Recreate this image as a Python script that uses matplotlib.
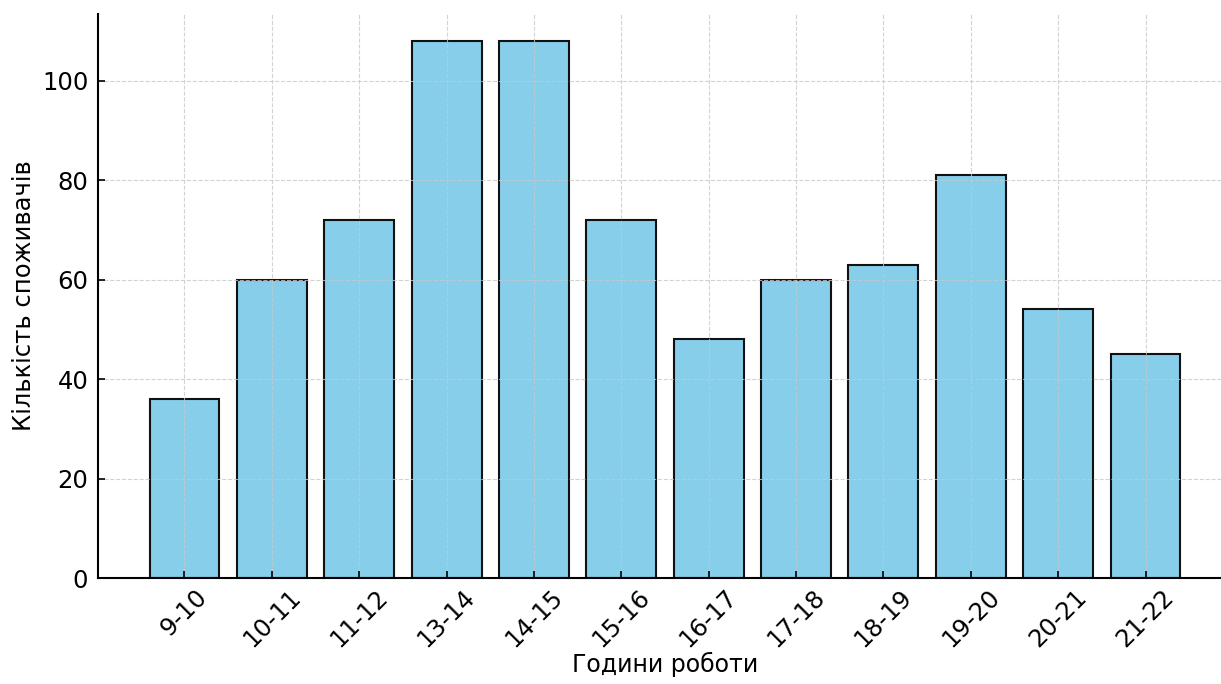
import matplotlib
matplotlib.use("Agg")
import matplotlib.pyplot as plt

hours = ['9-10', '10-11', '11-12', '13-14', '14-15', '15-16',
         '16-17', '17-18', '18-19', '19-20', '20-21', '21-22']
customers = [36, 60, 72, 108, 108, 72, 48, 60, 63, 81, 54, 45]

fig = plt.figure(figsize=(12.21, 6.84), dpi=100)
ax = fig.add_axes([98 / 1221, 106 / 684, (1232 - 98) / 1221, (578 - 14) / 684])

ax.bar(hours, customers, color='skyblue', edgecolor='#111111', linewidth=1.5, width=0.8)

ax.set_xlabel('Години роботи', fontsize=17, labelpad=0)
ax.set_ylabel('Кількість споживачів', fontsize=17.5, labelpad=4)
ax.tick_params(axis='both', labelsize=17.5, direction='in', length=5, width=1.2)
ax.tick_params(axis='x', pad=5)
ax.tick_params(axis='y', pad=7)
plt.setp(ax.get_xticklabels(), rotation=45)
ax.grid(True, linestyle='--', color='#c8c8c8', linewidth=0.8, alpha=0.8)

for side in ['top', 'right']:
    ax.spines[side].set_visible(False)
for side in ['left', 'bottom']:
    ax.spines[side].set_linewidth(1.5)

fig.savefig('out.png', dpi=100)
